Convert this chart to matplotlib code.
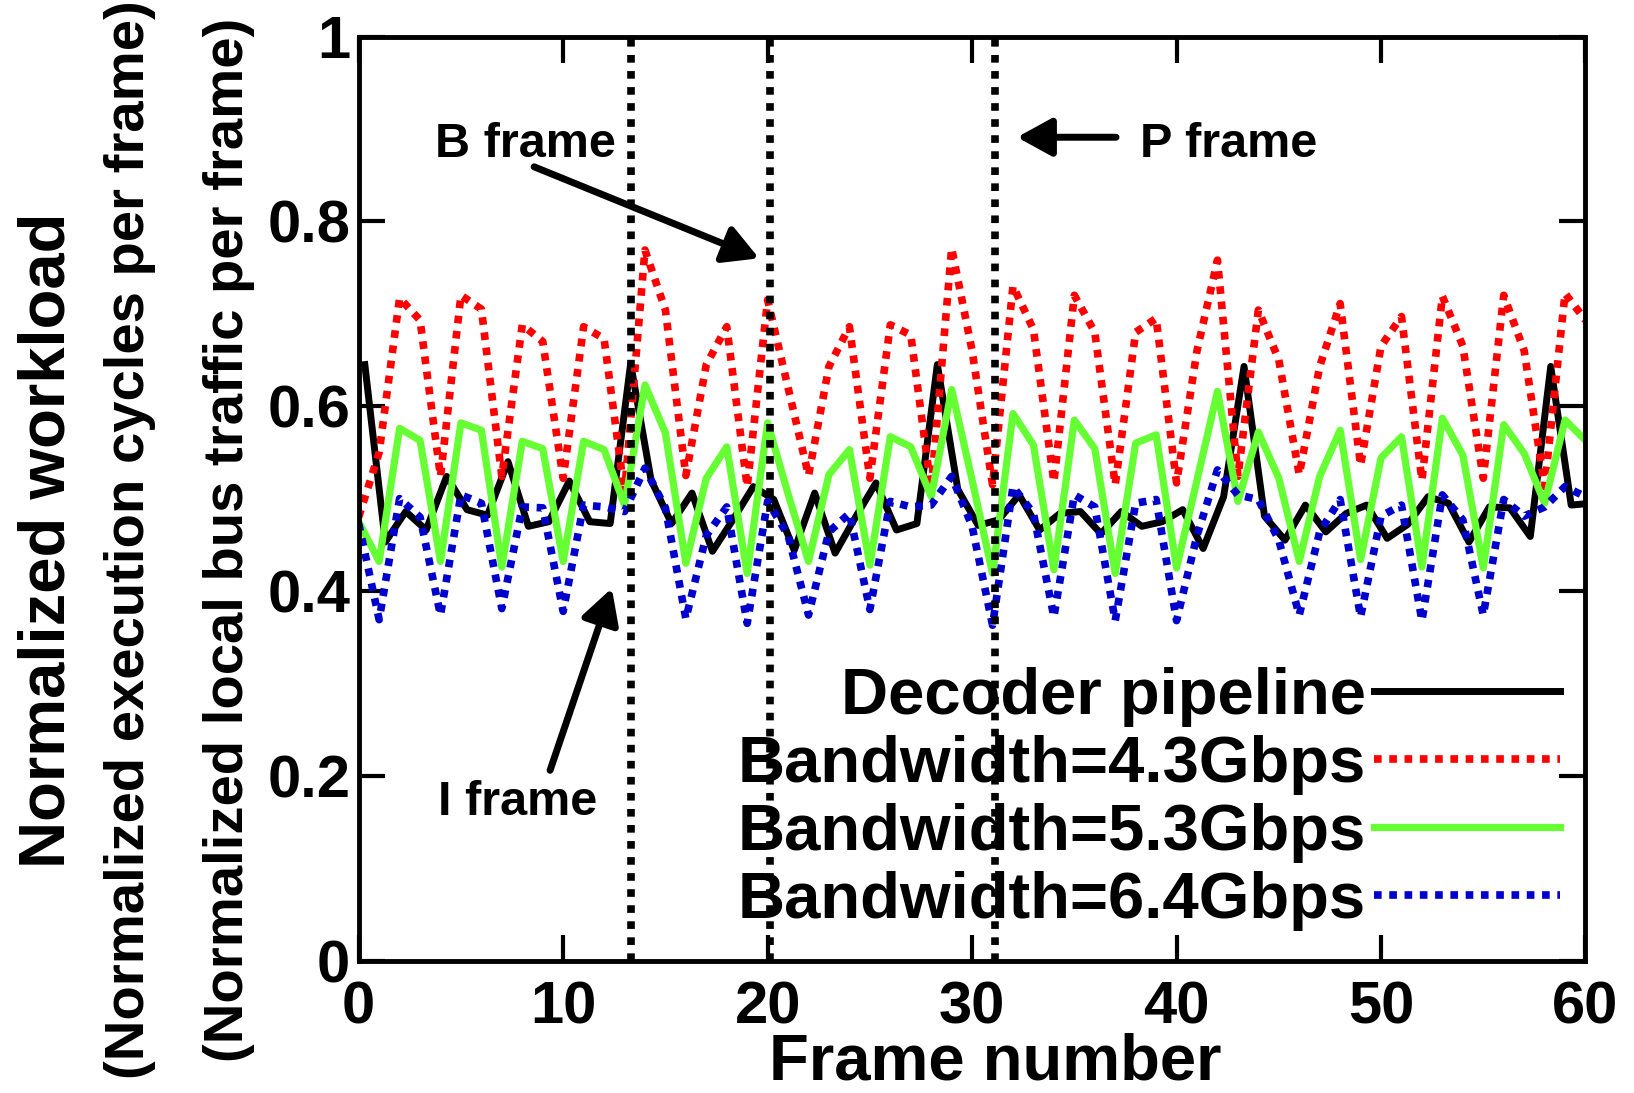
import numpy as np
import matplotlib
matplotlib.use("Agg")
import matplotlib.pyplot as plt


# ----------------------------------- Data -----------------------------------

frames = np.arange(61)

# decoder pipeline (normalized execution cycles per frame)
decoder = [0.645, 0.453, 0.486, 0.466, 0.524, 0.488, 0.482, 0.540, 0.470, 0.475,
           0.519, 0.475, 0.473, 0.646, 0.520, 0.473, 0.506, 0.443, 0.477, 0.513,
           0.499, 0.444, 0.506, 0.441, 0.480, 0.517, 0.466, 0.473, 0.645, 0.510,
           0.471, 0.477, 0.504, 0.466, 0.484, 0.486, 0.462, 0.486, 0.470, 0.475,
           0.488, 0.446, 0.502, 0.643, 0.481, 0.455, 0.493, 0.464, 0.484, 0.493,
           0.457, 0.472, 0.502, 0.495, 0.453, 0.491, 0.490, 0.459, 0.643, 0.493,
           0.495]

# local bus traffic per frame for each bandwidth
bw_43 = [0.480, 0.550, 0.717, 0.693, 0.524, 0.720, 0.705, 0.524, 0.688, 0.670,
         0.522, 0.686, 0.673, 0.506, 0.769, 0.704, 0.525, 0.645, 0.686, 0.513,
         0.715, 0.620, 0.525, 0.643, 0.686, 0.522, 0.688, 0.677, 0.510, 0.771,
         0.660, 0.515, 0.730, 0.683, 0.518, 0.720, 0.680, 0.515, 0.680, 0.695,
         0.517, 0.660, 0.758, 0.524, 0.704, 0.650, 0.526, 0.643, 0.711, 0.536,
         0.665, 0.697, 0.520, 0.719, 0.665, 0.522, 0.720, 0.660, 0.513, 0.722,
         0.693]

bw_53 = [0.475, 0.432, 0.576, 0.563, 0.432, 0.582, 0.574, 0.426, 0.562, 0.554,
         0.432, 0.562, 0.553, 0.493, 0.623, 0.571, 0.430, 0.522, 0.556, 0.419,
         0.582, 0.505, 0.432, 0.526, 0.553, 0.428, 0.567, 0.556, 0.502, 0.618,
         0.520, 0.419, 0.592, 0.558, 0.423, 0.585, 0.554, 0.419, 0.560, 0.569,
         0.425, 0.520, 0.616, 0.497, 0.572, 0.522, 0.432, 0.524, 0.574, 0.434,
         0.544, 0.567, 0.426, 0.587, 0.547, 0.425, 0.580, 0.549, 0.495, 0.585,
         0.563]

bw_64 = [0.473, 0.369, 0.500, 0.480, 0.374, 0.504, 0.495, 0.381, 0.491, 0.490,
         0.378, 0.493, 0.491, 0.486, 0.533, 0.490, 0.370, 0.460, 0.491, 0.365,
         0.497, 0.460, 0.374, 0.464, 0.484, 0.380, 0.497, 0.491, 0.493, 0.524,
         0.470, 0.363, 0.513, 0.484, 0.372, 0.504, 0.491, 0.368, 0.495, 0.499,
         0.368, 0.460, 0.531, 0.504, 0.499, 0.455, 0.374, 0.464, 0.499, 0.372,
         0.481, 0.493, 0.368, 0.504, 0.477, 0.374, 0.499, 0.481, 0.491, 0.513,
         0.502]

series_labels = ["Decoder pipeline", "Bandwidth=4.3Gbps",
                 "Bandwidth=5.3Gbps", "Bandwidth=6.4Gbps"]

x_ticks = [0, 10, 20, 30, 40, 50, 60]
y_ticks = [0, 0.2, 0.4, 0.6, 0.8, 1]
y_tick_labels = ["0", "0.2", "0.4", "0.6", "0.8", "1"]

# frame type markers (I, B, P)
marker_frames = [13.3, 20.1, 31.1]

# decoder curve is drawn slightly shifted in the original plot
DECODER_SHIFT = 0.3


# ---------------------------------- Figure ----------------------------------

plt.rcParams["font.family"] = ["Liberation Sans", "DejaVu Sans"]
plt.rcParams["font.weight"] = "bold"

W, H = 1634, 1093
fig = plt.figure(figsize=(W / 100, H / 100), dpi=100)
ax = fig.add_axes([358.7 / W, 1 - 960.7 / H, (1585.5 - 358.7) / W, (960.7 - 36.5) / H])

dots = (0, (1.0, 1.0))

ax.plot(frames + DECODER_SHIFT, decoder, color="black", lw=5.0,
        label=series_labels[0])
ax.plot(frames, bw_43, color="#ff0000", lw=5.5, linestyle=dots, label=series_labels[1])
ax.plot(frames, bw_53, color="#66ff33", lw=5.2, label=series_labels[2])
ax.plot(frames, bw_64, color="#0000cc", lw=5.5, linestyle=dots, label=series_labels[3])

# vertical dotted lines for the frame types
for f in marker_frames:
    ax.axvline(f, color="black", lw=5.5, linestyle=(0, (1.0, 1.1)), zorder=3)

ax.set_xlim(0, 60)
ax.set_ylim(0, 1)
ax.set_xticks(x_ticks)
ax.set_yticks(y_ticks)
ax.set_yticklabels(y_tick_labels)

ax.tick_params(direction="in", length=19, width=3, top=True, right=True,
               labelsize=43)
ax.tick_params(axis="x", pad=14)
ax.tick_params(axis="y", pad=6)
for lab in ax.get_xticklabels() + ax.get_yticklabels():
    lab.set_fontweight("bold")
for sp in ax.spines.values():
    sp.set_linewidth(3.5)

# annotations
arrow = dict(arrowstyle="-|>,head_length=1.0,head_width=0.55", lw=5,
             color="black", mutation_scale=21, shrinkA=0, shrinkB=0)
ax.annotate("", xy=(19.58, 0.760), xytext=(8.58, 0.859), arrowprops=arrow)
ax.annotate("", xy=(32.20, 0.891), xytext=(37.04, 0.891), arrowprops=arrow)
ax.annotate("", xy=(12.38, 0.403), xytext=(9.36, 0.206), arrowprops=arrow)

ax.text(8.14, 0.870, "B frame", fontsize=35, ha="center", va="baseline")
ax.text(42.55, 0.870, "P frame", fontsize=35, ha="center", va="baseline")
ax.text(7.77, 0.158, "I frame", fontsize=35, ha="center", va="baseline")

# legend: text first, line sample after
ax.legend(loc="center right", bbox_to_anchor=(0.9796, 0.175), frameon=False,
          markerfirst=False, fontsize=47, handlelength=2.85, handletextpad=0.13,
          labelspacing=0.12, borderpad=0, borderaxespad=0)

# axis labels
fig.text(48 / W, 1 - 540 / H, "Normalized workload", rotation=90,
         fontsize=47, ha="center", va="center")
fig.text(130 / W, 1 - 540 / H, "(Normalized execution cycles per frame)",
         rotation=90, fontsize=40.5, ha="center", va="center")
fig.text(229 / W, 1 - 540 / H, "(Normalized local bus traffic per frame)",
         rotation=90, fontsize=40.5, ha="center", va="center")
fig.text(995 / W, 0.0, "Frame number", fontsize=47,
         ha="center", va="bottom")

fig.savefig("out.png", dpi=100)
